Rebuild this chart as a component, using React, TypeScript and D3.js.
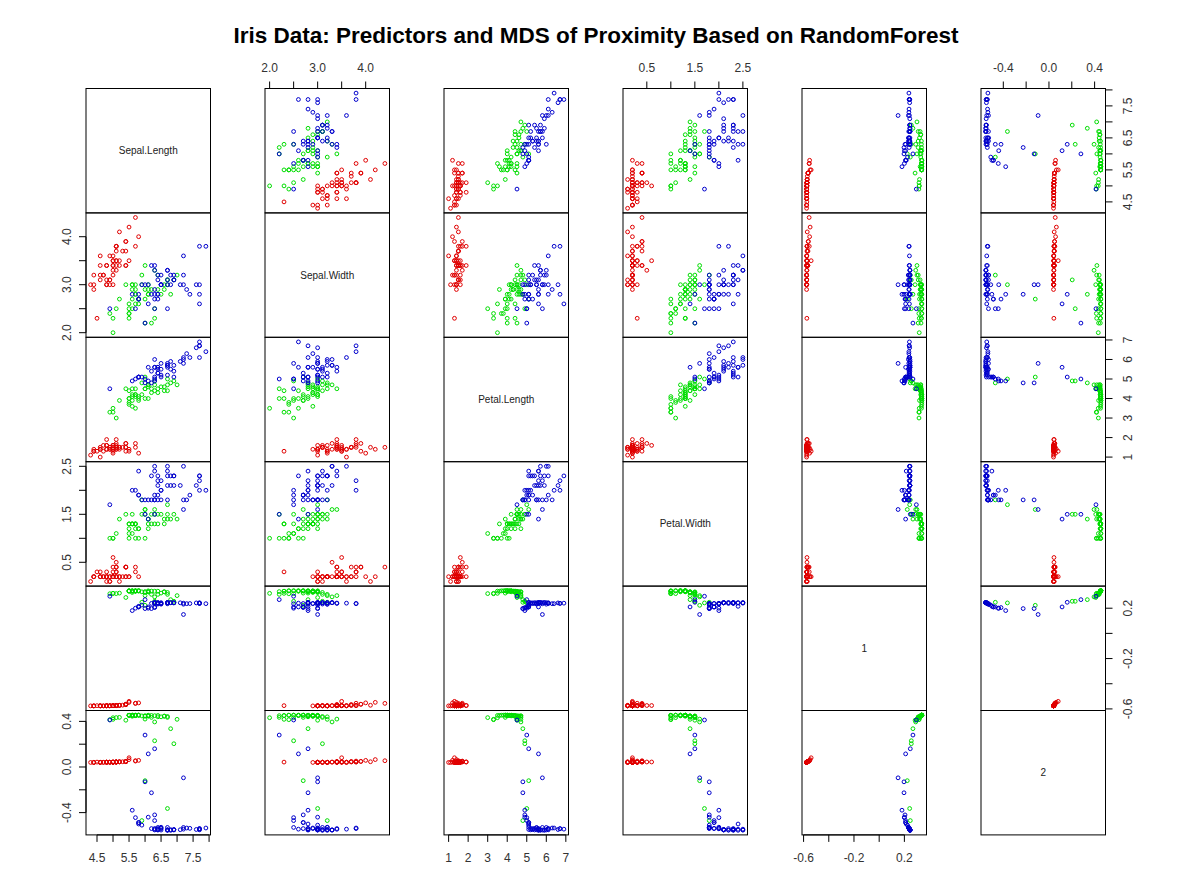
import React from 'react';
import * as d3 from 'd3';

// iris predictors, rows 1..150 (setosa, versicolor, virginica)
const sepalLength = [
  5.1, 4.9, 4.7, 4.6, 5.0, 5.4, 4.6, 5.0, 4.4, 4.9, 5.4, 4.8, 4.8, 4.3, 5.8, 5.7, 5.4, 5.1, 5.7, 5.1, 5.4, 5.1, 4.6, 5.1, 4.8,
  5.0, 5.0, 5.2, 5.2, 4.7, 4.8, 5.4, 5.2, 5.5, 4.9, 5.0, 5.5, 4.9, 4.4, 5.1, 5.0, 4.5, 4.4, 5.0, 5.1, 4.8, 5.1, 4.6, 5.3, 5.0,
  7.0, 6.4, 6.9, 5.5, 6.5, 5.7, 6.3, 4.9, 6.6, 5.2, 5.0, 5.9, 6.0, 6.1, 5.6, 6.7, 5.6, 5.8, 6.2, 5.6, 5.9, 6.1, 6.3, 6.1, 6.4,
  6.6, 6.8, 6.7, 6.0, 5.7, 5.5, 5.5, 5.8, 6.0, 5.4, 6.0, 6.7, 6.3, 5.6, 5.5, 5.5, 6.1, 5.8, 5.0, 5.6, 5.7, 5.7, 6.2, 5.1, 5.7,
  6.3, 5.8, 7.1, 6.3, 6.5, 7.6, 4.9, 7.3, 6.7, 7.2, 6.5, 6.4, 6.8, 5.7, 5.8, 6.4, 6.5, 7.7, 7.7, 6.0, 6.9, 5.6, 7.7, 6.3, 6.7,
  7.2, 6.2, 6.1, 6.4, 7.2, 7.4, 7.9, 6.4, 6.3, 6.1, 7.7, 6.3, 6.4, 6.0, 6.9, 6.7, 6.9, 5.8, 6.8, 6.7, 6.7, 6.3, 6.5, 6.2, 5.9,
];
const sepalWidth = [
  3.5, 3.0, 3.2, 3.1, 3.6, 3.9, 3.4, 3.4, 2.9, 3.1, 3.7, 3.4, 3.0, 3.0, 4.0, 4.4, 3.9, 3.5, 3.8, 3.8, 3.4, 3.7, 3.6, 3.3, 3.4,
  3.0, 3.4, 3.5, 3.4, 3.2, 3.1, 3.4, 4.1, 4.2, 3.1, 3.2, 3.5, 3.6, 3.0, 3.4, 3.5, 2.3, 3.2, 3.5, 3.8, 3.0, 3.8, 3.2, 3.7, 3.3,
  3.2, 3.2, 3.1, 2.3, 2.8, 2.8, 3.3, 2.4, 2.9, 2.7, 2.0, 3.0, 2.2, 2.9, 2.9, 3.1, 3.0, 2.7, 2.2, 2.5, 3.2, 2.8, 2.5, 2.8, 2.9,
  3.0, 2.8, 3.0, 2.9, 2.6, 2.4, 2.4, 2.7, 2.7, 3.0, 3.4, 3.1, 2.3, 3.0, 2.5, 2.6, 3.0, 2.6, 2.3, 2.7, 3.0, 2.9, 2.9, 2.5, 2.8,
  3.3, 2.7, 3.0, 2.9, 3.0, 3.0, 2.5, 2.9, 2.5, 3.6, 3.2, 2.7, 3.0, 2.5, 2.8, 3.2, 3.0, 3.8, 2.6, 2.2, 3.2, 2.8, 2.8, 2.7, 3.3,
  3.2, 2.8, 3.0, 2.8, 3.0, 2.8, 3.8, 2.8, 2.8, 2.6, 3.0, 3.4, 3.1, 3.0, 3.1, 3.1, 3.1, 2.7, 3.2, 3.3, 3.0, 2.5, 3.0, 3.4, 3.0,
];
const petalLength = [
  1.4, 1.4, 1.3, 1.5, 1.4, 1.7, 1.4, 1.5, 1.4, 1.5, 1.5, 1.6, 1.4, 1.1, 1.2, 1.5, 1.3, 1.4, 1.7, 1.5, 1.7, 1.5, 1.0, 1.7, 1.9,
  1.6, 1.6, 1.5, 1.4, 1.6, 1.6, 1.5, 1.5, 1.4, 1.5, 1.2, 1.3, 1.4, 1.3, 1.5, 1.3, 1.3, 1.3, 1.6, 1.9, 1.4, 1.6, 1.4, 1.5, 1.4,
  4.7, 4.5, 4.9, 4.0, 4.6, 4.5, 4.7, 3.3, 4.6, 3.9, 3.5, 4.2, 4.0, 4.7, 3.6, 4.4, 4.5, 4.1, 4.5, 3.9, 4.8, 4.0, 4.9, 4.7, 4.3,
  4.4, 4.8, 5.0, 4.5, 3.5, 3.8, 3.7, 3.9, 5.1, 4.5, 4.5, 4.7, 4.4, 4.1, 4.0, 4.4, 4.6, 4.0, 3.3, 4.2, 4.2, 4.2, 4.3, 3.0, 4.1,
  6.0, 5.1, 5.9, 5.6, 5.8, 6.6, 4.5, 6.3, 5.8, 6.1, 5.1, 5.3, 5.5, 5.0, 5.1, 5.3, 5.5, 6.7, 6.9, 5.0, 5.7, 4.9, 6.7, 4.9, 5.7,
  6.0, 4.8, 4.9, 5.6, 5.8, 6.1, 6.4, 5.6, 5.1, 5.6, 6.1, 5.6, 5.5, 4.8, 5.4, 5.6, 5.1, 5.1, 5.9, 5.7, 5.2, 5.0, 5.2, 5.4, 5.1,
];
const petalWidth = [
  0.2, 0.2, 0.2, 0.2, 0.2, 0.4, 0.3, 0.2, 0.2, 0.1, 0.2, 0.2, 0.1, 0.1, 0.2, 0.4, 0.4, 0.3, 0.3, 0.3, 0.2, 0.4, 0.2, 0.5, 0.2,
  0.2, 0.4, 0.2, 0.2, 0.2, 0.2, 0.4, 0.1, 0.2, 0.2, 0.2, 0.2, 0.1, 0.2, 0.2, 0.3, 0.3, 0.2, 0.6, 0.4, 0.3, 0.2, 0.2, 0.2, 0.2,
  1.4, 1.5, 1.5, 1.3, 1.5, 1.3, 1.6, 1.0, 1.3, 1.4, 1.0, 1.5, 1.0, 1.4, 1.3, 1.4, 1.5, 1.0, 1.5, 1.1, 1.8, 1.3, 1.5, 1.2, 1.3,
  1.4, 1.4, 1.7, 1.5, 1.0, 1.1, 1.0, 1.2, 1.6, 1.5, 1.6, 1.5, 1.3, 1.3, 1.3, 1.2, 1.4, 1.2, 1.0, 1.3, 1.2, 1.3, 1.3, 1.1, 1.3,
  2.5, 1.9, 2.1, 1.8, 2.2, 2.1, 1.7, 1.8, 1.8, 2.5, 2.0, 1.9, 2.1, 2.0, 2.4, 2.3, 1.8, 2.2, 2.3, 1.5, 2.3, 2.0, 2.0, 1.8, 2.1,
  1.8, 1.8, 1.8, 2.1, 1.6, 1.9, 2.0, 2.2, 1.5, 1.4, 2.3, 2.4, 1.8, 1.8, 2.1, 2.4, 2.3, 1.9, 2.3, 2.5, 2.3, 1.9, 2.0, 2.3, 1.8,
];
// MDS coordinates of the RF proximity
const mds1 = [
  -0.574, -0.576, -0.576, -0.575, -0.574, -0.563, -0.575, -0.574, -0.576, -0.575, -0.565, -0.575, -0.576, -0.576, -0.552,
  -0.556, -0.563, -0.574, -0.555, -0.573, -0.566, -0.573, -0.576, -0.573, -0.574, -0.575, -0.574, -0.572, -0.572, -0.576,
  -0.575, -0.566, -0.571, -0.548, -0.575, -0.575, -0.54, -0.575, -0.576, -0.574, -0.575, -0.574, -0.576, -0.573, -0.572,
  -0.575, -0.573, -0.576, -0.57, -0.575,
  0.3, 0.31, 0.255, 0.335, 0.32, 0.335, 0.29, 0.315, 0.33, 0.32, 0.318, 0.33, 0.332, 0.33, 0.335, 0.325, 0.325, 0.336, 0.31,
  0.338, 0.247, 0.338, 0.255, 0.33, 0.335, 0.33, 0.268, 0.242, 0.325, 0.336, 0.338, 0.338, 0.339, 0.223, 0.285, 0.3, 0.31,
  0.335, 0.337, 0.338, 0.336, 0.33, 0.339, 0.318, 0.338, 0.337, 0.338, 0.336, 0.316, 0.338,
  0.244, 0.21, 0.243, 0.238, 0.244, 0.242, 0.295, 0.236, 0.235, 0.24, 0.232, 0.237, 0.243, 0.2, 0.215, 0.242, 0.236, 0.238,
  0.24, 0.268, 0.243, 0.181, 0.239, 0.205, 0.244, 0.232, 0.197, 0.2, 0.243, 0.15, 0.237, 0.236, 0.244, 0.247, 0.21, 0.243,
  0.241, 0.233, 0.197, 0.244, 0.245, 0.242, 0.21, 0.245, 0.244, 0.243, 0.21, 0.238, 0.238, 0.225,
];
const mds2 = [
  0.043, 0.042, 0.041, 0.041, 0.043, 0.049, 0.041, 0.043, 0.04, 0.042, 0.048, 0.042, 0.041, 0.04, 0.058, 0.055, 0.049, 0.043,
  0.052, 0.044, 0.047, 0.044, 0.04, 0.044, 0.043, 0.042, 0.043, 0.045, 0.045, 0.041, 0.042, 0.047, 0.046, 0.065, 0.042, 0.042,
  0.081, 0.042, 0.04, 0.043, 0.042, 0.043, 0.04, 0.044, 0.045, 0.042, 0.044, 0.041, 0.046, 0.042,
  0.418, 0.44, 0.204, 0.452, 0.44, 0.45, 0.395, 0.415, 0.445, 0.435, 0.432, 0.448, 0.45, 0.448, 0.452, 0.443, 0.445, 0.453,
  0.435, 0.455, -0.47, 0.454, 0.23, 0.448, 0.452, 0.447, 0.336, -0.364, 0.445, 0.452, 0.454, 0.454, 0.455, -0.12, 0.41, 0.42,
  0.435, 0.45, 0.453, 0.454, 0.452, 0.448, 0.455, 0.418, 0.454, 0.453, 0.454, 0.452, 0.433, 0.454,
  -0.552, -0.487, -0.55, -0.54, -0.553, -0.548, 0.412, -0.535, -0.53, -0.545, -0.528, -0.54, -0.55, -0.444, -0.5, -0.548,
  -0.535, -0.54, -0.545, 0.28, -0.55, -0.379, -0.542, -0.42, -0.552, -0.53, -0.226, -0.44, -0.55, -0.095, -0.538, -0.535,
  -0.553, 0.16, 0.115, -0.551, -0.546, -0.53, -0.13, -0.552, -0.555, -0.548, -0.487, -0.555, -0.553, -0.551, -0.47, -0.54,
  -0.54, -0.51,
];

const groupSizes = [50, 50, 50];
const groupColors = ['#e00000', '#00dd00', '#0000cc'];

const varNames = ['Sepal.Length', 'Sepal.Width', 'Petal.Length', 'Petal.Width', '1', '2'];
const tickValues = [
  [4.5, 5, 5.5, 6, 6.5, 7, 7.5, 8],
  [2, 2.5, 3, 3.5, 4],
  [1, 2, 3, 4, 5, 6, 7],
  [0.5, 1, 1.5, 2, 2.5],
  [-0.6, -0.4, -0.2, 0, 0.2],
  [-0.4, -0.2, 0, 0.2, 0.4],
];
const tickLabels = [
  ['4.5', '', '5.5', '', '6.5', '', '7.5', ''],
  ['2.0', '', '3.0', '', '4.0'],
  ['1', '2', '3', '4', '5', '6', '7'],
  ['0.5', '', '1.5', '', '2.5'],
  ['-0.6', '', '-0.2', '', '0.2'],
  ['-0.4', '', '0.0', '', '0.4'],
];

const title = 'Iris Data: Predictors and MDS of Proximity Based on RandomForest';

const W = 1192;
const H = 894;
const LEFT0 = 86;
const COL_STEP = 179;
const PW = 124.5;
const TOP0 = 88.5;
const PH = 124.4;
const TICK = 7;
const font = 'Arial, "Liberation Sans", sans-serif';

const App = () => {
  const columns = [sepalLength, sepalWidth, petalLength, petalWidth, mds1, mds2];
  const n = columns.length;

  const group: number[] = [];
  groupSizes.forEach((size, g) => {
    for (let k = 0; k < size; k++) group.push(g);
  });

  // R style usr range: data range plus 4% each side
  const usr = columns.map(v => {
    const [lo, hi] = d3.extent(v) as [number, number];
    const pad = (hi - lo) * 0.04;
    return [lo - pad, hi + pad];
  });

  const left = (j: number) => LEFT0 + j * COL_STEP;
  const top = (i: number) => TOP0 + i * PH;
  const xs = usr.map((d, j) => d3.scaleLinear().domain(d).range([left(j), left(j) + PW]));
  const ys = usr.map((d, i) => d3.scaleLinear().domain(d).range([top(i) + PH, top(i)]));

  const panels = [];
  for (let i = 0; i < n; i++) {
    for (let j = 0; j < n; j++) {
      const x0 = left(j);
      const y0 = top(i);
      panels.push(
        <g key={`p${i}-${j}`}>
          {i === j ? (
            <text x={x0 + PW / 2} y={y0 + PH / 2} dy="0.35em" textAnchor="middle" fontSize={10} fill="#222">
              {varNames[i]}
            </text>
          ) : (
            columns[j].map((v, k) => (
              <circle
                key={k}
                cx={xs[j](v)}
                cy={ys[i](columns[i][k])}
                r={1.9}
                fill="none"
                stroke={groupColors[group[k]]}
                strokeWidth={1}
              />
            ))
          )}
          <rect x={x0} y={y0} width={PW} height={PH} fill="none" stroke="#000" strokeWidth={1} />
        </g>
      );
    }
  }

  const axes = [];
  // bottom axes on columns 1, 3, 5 and top axes on 2, 4, 6
  for (let j = 0; j < n; j++) {
    const isBottom = j % 2 === 0;
    const yb = isBottom ? top(n - 1) + PH : top(0);
    const dir = isBottom ? 1 : -1;
    const ticks = tickValues[j];
    axes.push(
      <g key={`ax${j}`}>
        <line x1={xs[j](ticks[0])} x2={xs[j](ticks[ticks.length - 1])} y1={yb} y2={yb} stroke="#000" />
        {ticks.map((t, k) => (
          <g key={k}>
            <line x1={xs[j](t)} x2={xs[j](t)} y1={yb} y2={yb + dir * TICK} stroke="#000" />
            <text x={xs[j](t)} y={yb + dir * (isBottom ? 22.5 : 20.5)} dy="0.35em" textAnchor="middle" fontSize={12} fill="#333">
              {tickLabels[j][k]}
            </text>
          </g>
        ))}
      </g>
    );
  }
  // right axes on rows 1, 3, 5 and left axes on rows 2, 4, 6
  for (let i = 0; i < n; i++) {
    const isRight = i % 2 === 0;
    const xb = isRight ? left(n - 1) + PW : left(0);
    const dir = isRight ? 1 : -1;
    const ticks = tickValues[i];
    axes.push(
      <g key={`ay${i}`}>
        <line x1={xb} x2={xb} y1={ys[i](ticks[0])} y2={ys[i](ticks[ticks.length - 1])} stroke="#000" />
        {ticks.map((t, k) => {
          const lx = xb + dir * (isRight ? 22.5 : 19);
          const ly = ys[i](t);
          return (
            <g key={k}>
              <line x1={xb} x2={xb + dir * TICK} y1={ly} y2={ly} stroke="#000" />
              <text
                transform={`translate(${lx},${ly}) rotate(-90)`}
                dy="0.35em"
                textAnchor="middle"
                fontSize={12}
                fill="#333"
              >
                {tickLabels[i][k]}
              </text>
            </g>
          );
        })}
      </g>
    );
  }

  return (
    <svg
      width={W}
      height={H}
      style={{ position: 'absolute', left: 0, top: 0, background: '#fff', fontFamily: font }}
    >
      <rect width={W} height={H} fill="#fff" />
      <text x={W / 2} y={35} dy="0.35em" textAnchor="middle" fontSize={22.5} fontWeight="bold" fill="#000">
        {title}
      </text>
      {panels}
      {axes}
    </svg>
  );
};

export default App;
